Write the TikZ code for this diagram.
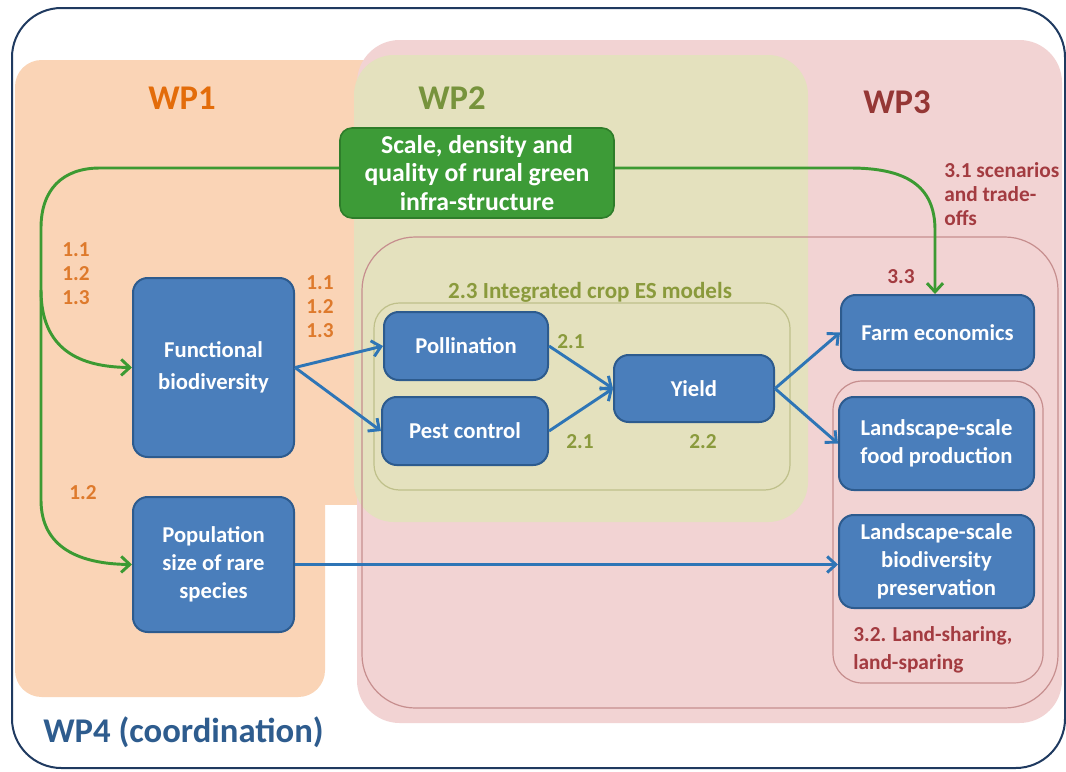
\documentclass[tikz,border=0pt]{standalone}
\usepackage{fontspec}
\setmainfont{Carlito}
\usetikzlibrary{arrows.meta}
\definecolor{frameblue}{HTML}{1F3A60}
\definecolor{wporange}{HTML}{FAD4B6}
\definecolor{wppink}{HTML}{F2D3D3}
\definecolor{wpgreen}{HTML}{E4E1BE}
\definecolor{boxblue}{HTML}{4A7EBB}
\definecolor{boxblueline}{HTML}{2D5B8E}
\definecolor{boxgreen}{HTML}{3D9B37}
\definecolor{boxgreenline}{HTML}{2E7D2A}
\definecolor{arrowblue}{HTML}{2E75B6}
\definecolor{arrowgreen}{HTML}{3C9A32}
\definecolor{txtorange}{HTML}{E36C0A}
\definecolor{numorange}{HTML}{DE7A2C}
\definecolor{txtolive}{HTML}{77933C}
\definecolor{numolive}{HTML}{8A9A3C}
\definecolor{txtred}{HTML}{953735}
\definecolor{numred}{HTML}{A33B40}
\definecolor{txtnavy}{HTML}{2E5C8E}
\definecolor{linerose}{HTML}{C68E8E}
\definecolor{lineolive}{HTML}{BFC08A}
\begin{document}
\begin{tikzpicture}[x=0.75pt,y=-0.75pt,
  bluebox/.style={draw=boxblueline, line width=1.5pt, fill=boxblue, rounded corners=11pt,
    text=white, font=\bfseries\fontsize{17}{21}\selectfont, align=center, inner sep=2pt},
  greenbox/.style={draw=boxgreenline, line width=1.2pt, fill=boxgreen, rounded corners=9pt,
    text=white, font=\bfseries\fontsize{19.3}{21.4}\selectfont, align=center, inner sep=2pt},
  wplabel/.style={font=\bfseries\fontsize{26}{30}\selectfont, inner sep=0pt},
  numlabel/.style={font=\bfseries\fontsize{16}{18}\selectfont, inner sep=0pt, align=center},
  barrow/.style={draw=arrowblue, line width=2.2pt, -{Straight Barb[length=6.5pt,width=12pt]}},
  garrow/.style={draw=arrowgreen, line width=2.2pt, -{Straight Barb[length=6.5pt,width=12pt]}}
]
\useasboundingbox (0,0) rectangle (1066,771);
\fill[white] (0,0) rectangle (1066,771);
% outer frame
\draw[frameblue, line width=1.5pt, rounded corners=37pt] (12,8) rectangle (1065,768);
% WP1 orange
\fill[wporange, rounded corners=20pt] (15,60) rectangle (325,697);
\fill[wporange] (250,60) rectangle (365,505);
% WP3 pink
\fill[wppink, rounded corners=32pt] (357,40) rectangle (1062,723);
% WP2 green
\fill[wpgreen, rounded corners=30pt] (354,55) rectangle (808,522);
% inner WP3 box
\draw[linerose, line width=0.9pt, rounded corners=40pt] (362,237) rectangle (1058,708);
% 2.3 box
\draw[lineolive, line width=0.9pt, rounded corners=19pt] (374,303) rectangle (790,490);
% 3.2 box
\draw[linerose, line width=0.9pt, rounded corners=22pt] (833,381) rectangle (1043,683);

% WP labels
\node[wplabel, text=txtorange] (wp1) at (182,98) {WP1};
\node[wplabel, text=txtolive] (wp2) at (452,98) {WP2};
\node[wplabel, text=txtred] (wp3) at (897,102) {WP3};
\node[wplabel, text=txtnavy, anchor=base west] (wp4) at (43,742) {WP4 (coordination)};

% boxes
\node[greenbox, minimum width=205.5pt, minimum height=67.5pt] (gbox) at (477,173)
  {Scale, density and\\quality of rural green\\infra-structure};
\node[bluebox, minimum width=120.75pt, minimum height=134.25pt,
  font=\bfseries\fontsize{17}{24}\selectfont] (func) at (213.5,367.5) {Functional\\biodiversity};
\node[bluebox, minimum width=120.75pt, minimum height=101.25pt] (pop) at (213.5,564.5)
  {Population\\size of rare\\species};
\node[bluebox, minimum width=123pt, minimum height=51pt] (poll) at (466,346) {Pollination};
\node[bluebox, minimum width=124.5pt, minimum height=51pt] (pest) at (465,431) {Pest control};
\node[bluebox, minimum width=120pt, minimum height=50.25pt] (yield) at (694,388.5) {Yield};
\node[bluebox, minimum width=144.75pt, minimum height=56.25pt] (farm) at (937.5,332.5) {Farm economics};
\node[bluebox, minimum width=146.25pt, minimum height=69.75pt] (food) at (936.5,443.5)
  {Landscape-scale\\food production};
\node[bluebox, minimum width=146.25pt, minimum height=69.75pt] (biod) at (936.5,561.5)
  {Landscape-scale\\biodiversity\\preservation};

% small labels
\node[numlabel, text=numorange] (n1a) at (76,274) {1.1\\1.2\\1.3};
\node[numlabel, text=numorange] (n1b) at (320,307) {1.1\\1.2\\1.3};
\node[numlabel, text=numorange] (n1c) at (83,493) {1.2};
\node[numlabel, text=numolive] (n2a) at (571,342) {2.1};
\node[numlabel, text=numolive] (n2b) at (580,442) {2.1};
\node[numlabel, text=numolive] (n2c) at (703,442) {2.2};
\node[numlabel, text=numolive, font=\bfseries\fontsize{17.3}{18}\selectfont] (n23) at (590,292) {2.3 Integrated crop ES models};
\node[numlabel, text=numred, align=left, anchor=west] (n31) at (944,194) {3.1 scenarios\\and trade-\\offs};
\node[numlabel, text=numred] (n33) at (901,277) {3.3};
\node[numlabel, text=numred, align=left, anchor=west, font=\bfseries\fontsize{16}{21}\selectfont] (n32) at (853,650)
  {3.2. Land-sharing,\\land-sparing};

% green connectors
\coordinate (vsplit) at (41,290);
\draw[garrow] ([yshift=3.75pt]gbox.west) -- (100,168) .. controls (62,168) and (41,190) .. (41,228)
  -- (41,500) .. controls (41,548) and (80,564) .. (pop.west);
\draw[garrow] (vsplit) .. controls (41,350) and (80,367) .. (func.west);
\draw[garrow] ([yshift=3.75pt]gbox.east) -- (850,168) .. controls (905,168) and (935,185) .. (935,230)
  -- (farm.north -| 935,0);

% blue connectors
\draw[barrow] (func.east) -- (poll.west);
\draw[barrow] (func.east) -- (pest.west);
\draw[barrow] (poll.east) -- (yield.west);
\draw[barrow] (pest.east) -- (yield.west);
\draw[barrow] (yield.east) -- (farm.west);
\draw[barrow] (yield.east) -- (food.west);
\draw[barrow] (pop.east) -- (pop.east -| biod.west);
\end{tikzpicture}
\end{document}
